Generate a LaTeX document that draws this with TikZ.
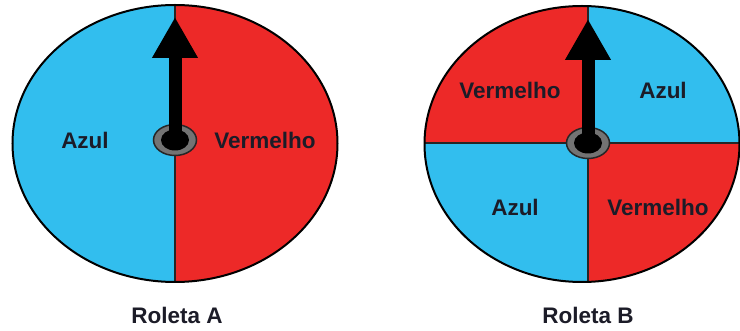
\documentclass[tikz,border=0pt]{standalone}
\usepackage{fontspec}
\setmainfont{Liberation Sans}
\usetikzlibrary{positioning,arrows.meta,shapes.geometric}
\definecolor{azul}{RGB}{50,190,238}
\definecolor{vermelho}{RGB}{237,41,40}
\definecolor{ink}{RGB}{28,28,40}

\begin{document}
\begin{tikzpicture}[x=1pt, y=-1pt,
    every node/.style={font=\fontsize{22.5}{26}\selectfont\bfseries, text=ink},
    rim/.style={draw=black, line width=2pt},
    split/.style={draw=black!85, line width=1.3pt},
    hub/.style={draw=black!85, ellipse, fill=black!55, line width=1.5pt, minimum width=43pt, minimum height=31pt, inner sep=0pt},
    pin/.style={ellipse, fill=black, minimum width=28pt, minimum height=21pt, inner sep=0pt},
    pointer/.style={-{Triangle[width=43pt, length=41pt]}, line width=13pt, black}
]
\useasboundingbox (0,0) rectangle (740,331);

% Roleta A
\coordinate (cA) at (175,143.5);
\begin{scope}
  \clip (cA) ellipse [x radius=162.5pt, y radius=138.5pt];
  \fill[vermelho] (0,0) rectangle (370,331);
  \fill[azul] (0,0) rectangle (175,331);
\end{scope}
\coordinate (topA) at (175,5);
\coordinate (botA) at (175,282);
\draw[split] (topA) -- (botA);
\draw[rim] (cA) ellipse [x radius=162.5pt, y radius=138.5pt];
\node (azulA) at (85,140) {Azul};
\node (vermA) at (265,140) {Vermelho};
\node[hub] (hubA) at (175,140) {};
\node[pin] (pinA) at (hubA) {};
\coordinate (tipA) at (175,17);
\draw[pointer] (hubA.center) -- (tipA);
\node (roletaA) at (177,315) {Roleta A};

% Roleta B
\coordinate (cB) at (582,144);
\begin{scope}
  \clip (cB) ellipse [x radius=157.5pt, y radius=138pt];
  \fill[vermelho] (400,0) rectangle (588,143);
  \fill[azul] (588,0) rectangle (740,143);
  \fill[azul] (400,143) rectangle (588,331);
  \fill[vermelho] (588,143) rectangle (740,331);
\end{scope}
\coordinate (topB) at (588,6);
\coordinate (botB) at (588,282);
\coordinate (leftB) at (424,143);
\coordinate (rightB) at (740,143);
\draw[split] (topB) -- (botB);
\draw[split] (leftB) -- (rightB);
\draw[rim] (cB) ellipse [x radius=157.5pt, y radius=138pt];
\node (vermB1) at (510,90) {Vermelho};
\node (azulB1) at (663,90) {Azul};
\node (azulB2) at (515,207) {Azul};
\node (vermB2) at (658,207) {Vermelho};
\node[hub] (hubB) at (588,143) {};
\node[pin] (pinB) at (hubB) {};
\coordinate (tipB) at (588,19);
\draw[pointer] (hubB.center) -- (tipB);
\node (roletaB) at (588,315) {Roleta B};
\end{tikzpicture}
\end{document}
